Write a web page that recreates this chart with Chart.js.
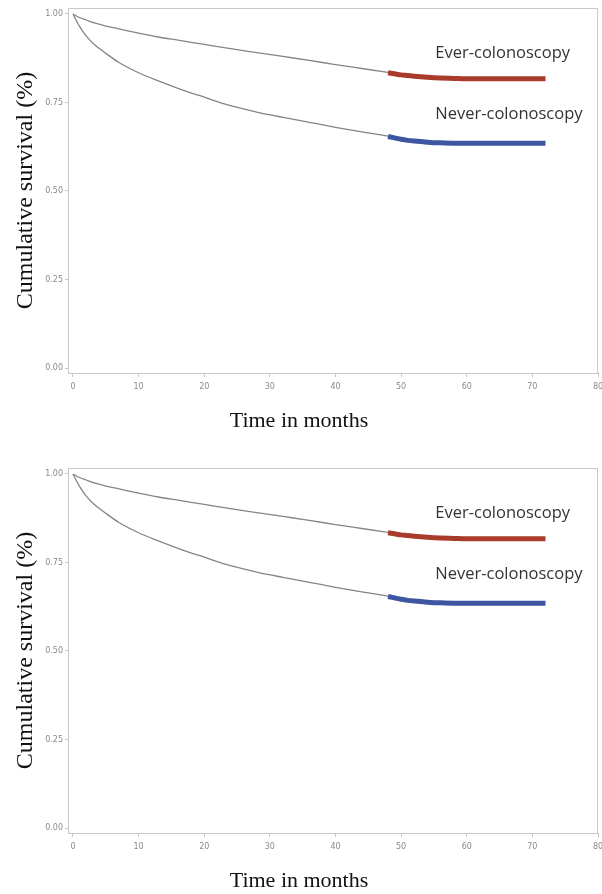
<!DOCTYPE html>
<html>
<head>
<meta charset="utf-8">
<script src="https://cdn.jsdelivr.net/npm/chart.js@4.4.1/dist/chart.umd.min.js"></script>
<style>
html,body{margin:0;padding:0;background:#fff;overflow:hidden;width:602px;height:894px;}
.panel{position:absolute;left:0;width:602px;height:460px;}
canvas{display:block;}
</style>
</head>
<body>
<div class="panel" style="top:0"><canvas id="c1" width="602" height="460"></canvas></div>
<div class="panel" style="top:460px"><canvas id="c2" width="602" height="460"></canvas></div>
<script>
// ---- data ----
const monthsEarly = [0, 1, 2, 3, 5, 7, 10, 13, 16, 20, 24, 28, 32, 36, 40, 44, 48];
const everEarly   = [1.000, 0.990, 0.983, 0.976, 0.966, 0.958, 0.946, 0.935, 0.926, 0.914, 0.902, 0.891, 0.880, 0.869, 0.857, 0.846, 0.835];
const neverEarly  = [1.000, 0.965, 0.938, 0.918, 0.889, 0.863, 0.834, 0.811, 0.790, 0.765, 0.741, 0.723, 0.708, 0.694, 0.680, 0.667, 0.655];

const monthsLate  = [48, 49, 50, 51, 52, 54, 56, 58, 60, 65, 72];
const everLate    = [0.834, 0.831, 0.828, 0.826, 0.824, 0.821, 0.819, 0.818, 0.817, 0.817, 0.817];
const neverLate   = [0.654, 0.650, 0.646, 0.643, 0.641, 0.638, 0.636, 0.635, 0.635, 0.635, 0.635];

const seriesNames = ['Ever-colonoscopy', 'Never-colonoscopy'];
const xTicks = [0, 10, 20, 30, 40, 50, 60, 70, 80];
const yTicks = [0.00, 0.25, 0.50, 0.75, 1.00];
const xTitle = 'Time in months';
const yTitle = 'Cumulative survival (%)';

const toXY = (xs, ys) => xs.map((x, i) => ({x: x, y: ys[i]}));

const frame = {
  id: 'frame',
  afterDraw(chart) {
    const a = chart.chartArea, ctx = chart.ctx;
    ctx.save();
    ctx.strokeStyle = '#c8c8c8';
    ctx.lineWidth = 1;
    ctx.strokeRect(Math.round(a.left) + 0.5, Math.round(a.top) + 0.5, Math.round(a.right - a.left) - 1, Math.round(a.bottom - a.top));
    ctx.restore();
  }
};

const seriesLabels = {
  id: 'seriesLabels',
  afterDatasetsDraw(chart, args, opts) {
    const ctx = chart.ctx, xs = chart.scales.x, ys = chart.scales.y;
    ctx.save();
    ctx.font = '16.5px "Open Sans", "Noto Sans", sans-serif';
    ctx.fillStyle = '#333';
    ctx.textAlign = 'left';
    ctx.textBaseline = 'alphabetic';
    opts.items.forEach(it => ctx.fillText(it.text, xs.getPixelForValue(it.x), ys.getPixelForValue(it.y)));
    ctx.restore();
  }
};

function makeChart(id) {
  const thin = {borderColor: '#858585', borderWidth: 1.3, pointRadius: 0, cubicInterpolationMode: 'monotone', fill: false};
  const thick = {borderWidth: 5, pointRadius: 0, cubicInterpolationMode: 'monotone', fill: false, borderCapStyle: 'butt'};
  return new Chart(document.getElementById(id), {
    type: 'line',
    data: {
      datasets: [
        Object.assign({label: seriesNames[0], data: toXY(monthsEarly, everEarly)}, thin),
        Object.assign({label: seriesNames[1], data: toXY(monthsEarly, neverEarly)}, thin),
        Object.assign({label: seriesNames[0] + ' (censored)', data: toXY(monthsLate, everLate), borderColor: '#a83b2c'}, thick),
        Object.assign({label: seriesNames[1] + ' (censored)', data: toXY(monthsLate, neverLate), borderColor: '#3d56a1'}, thick)
      ]
    },
    options: {
      responsive: false,
      animation: false,
      events: [],
      layout: {padding: {top: 8, right: 4, bottom: 0, left: 0}},
      plugins: {
        legend: {display: false},
        tooltip: {enabled: false},
        title: {
          display: true, position: 'bottom', text: xTitle, color: '#111',
          font: {family: '"Liberation Serif", "Times New Roman", serif', size: 22, weight: 'normal', lineHeight: 1.2},
          padding: {top: 0, bottom: 26}
        },
        seriesLabels: {
          items: [
            {text: seriesNames[0], x: 55.2, y: 0.875},
            {text: seriesNames[1], x: 55.2, y: 0.7025}
          ]
        }
      },
      scales: {
        x: {
          type: 'linear', min: -0.76, max: 80,
          afterBuildTicks: s => { s.ticks = xTicks.map(v => ({value: v})); },
          afterFit: s => { s.height = 34.6; s.paddingLeft = 0; s.paddingRight = 0; },
          ticks: {color: '#8a8a8a', font: {family: '"DejaVu Sans", sans-serif', size: 8}, padding: 5, maxRotation: 0, autoSkip: false, callback: v => String(v)},
          grid: {drawOnChartArea: false, drawTicks: true, tickLength: 4, color: '#c8c8c8'},
          border: {color: '#c0c0c0'}
        },
        y: {
          type: 'linear', min: -0.0141, max: 1.0169,
          afterBuildTicks: s => { s.ticks = yTicks.map(v => ({value: v})); },
          afterFit: s => { s.width = 68; s.paddingTop = 0; s.paddingBottom = 0; },
          ticks: {color: '#8a8a8a', font: {family: '"DejaVu Sans", sans-serif', size: 8}, padding: 2, autoSkip: false, callback: v => Number(v).toFixed(2)},
          grid: {drawOnChartArea: false, drawTicks: true, tickLength: 3, color: '#c8c8c8'},
          border: {color: '#c0c0c0'},
          title: {
            display: true, text: yTitle, color: '#111',
            font: {family: '"Liberation Serif", "Times New Roman", serif', size: 24, weight: 'normal', lineHeight: 1.2},
            padding: {top: 11, bottom: 0}
          }
        }
      }
    },
    plugins: [frame, seriesLabels]
  });
}
makeChart('c1');
makeChart('c2');
</script>
</body>
</html>
